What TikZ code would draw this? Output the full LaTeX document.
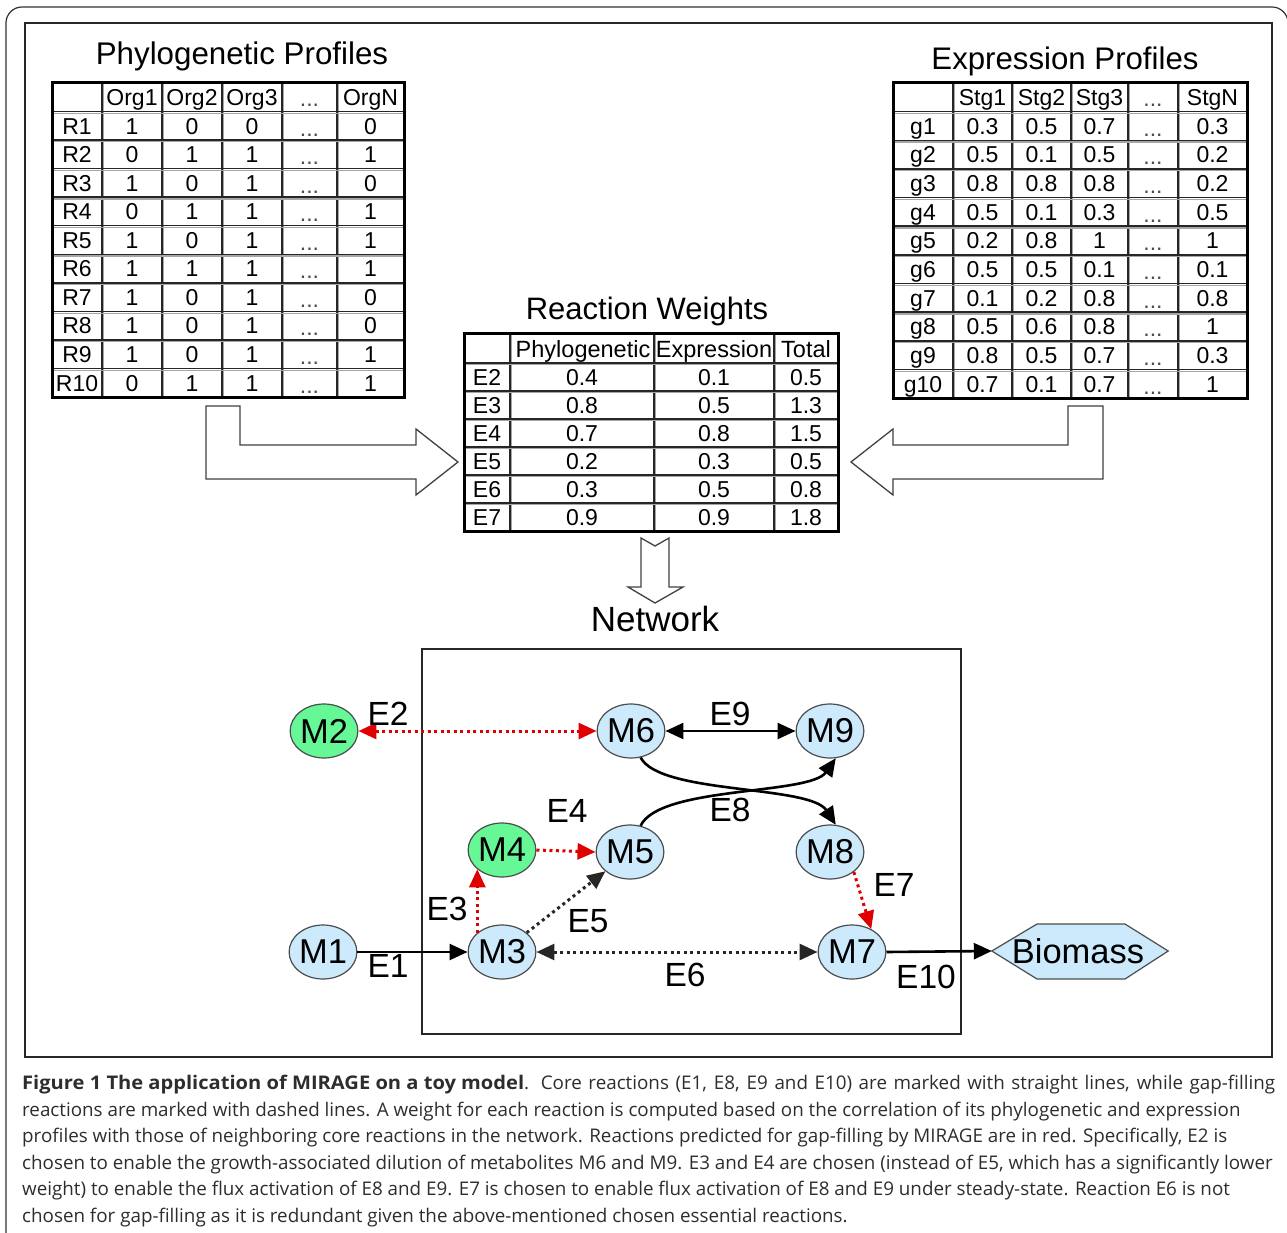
\documentclass[tikz,border=0pt]{standalone}
\usepackage{fontspec}
\setmainfont{Liberation Sans}
\newfontfamily\capfont{Open Sans}
\usetikzlibrary{arrows.meta,shapes.geometric}
\definecolor{metblue}{RGB}{204,234,252}
\definecolor{metgreen}{RGB}{102,248,150}
\definecolor{gapred}{RGB}{225,0,0}
\definecolor{captxt}{RGB}{45,45,45}
\newcommand\fs[1]{\fontsize{#1}{#1}\selectfont}
\newcommand\dts{...}
\tikzset{
  tri/.tip={Triangle[length=18pt,width=16pt]},
  met/.style={ellipse, draw=black!70, line width=1.2pt, fill=metblue, minimum width=66pt, minimum height=54pt, inner sep=0pt, font=\fs{34.5}},
  metg/.style={met, fill=metgreen},
  elab/.style={inner sep=0pt, font=\fs{33.5}},
  ttl/.style={inner sep=0pt, anchor=base},
  cell/.style={inner sep=0pt, anchor=base, font=\fs{23}},
  dcell/.style={cell, text=black!70},
  tshadow/.style={line width=1.2pt, black!35},
  tline/.style={line width=1.5pt, black!85},
  tframe/.style={line width=3pt, black},
  blockarrow/.style={draw=black!75, line width=1.3pt, fill=white, line join=miter},
  core/.style={line width=2.6pt, black},
  dotblack/.style={line width=3pt, black!85, dash pattern=on 3pt off 3.5pt},
  dotred/.style={line width=3pt, gapred, dash pattern=on 3pt off 3.5pt},
  capline/.style={inner sep=0pt, anchor=base west, font=\capfont\fs{18.8}, text=captxt},
}
\begin{document}
\begin{tikzpicture}[x=1pt,y=-1pt]
\useasboundingbox (0,0) rectangle (1287,1233);
% frames
\draw[line width=1.2pt, black!80, rounded corners=16pt] (6,1240) -- (6,7) -- (1288,7) -- (1288,1240);
\draw[line width=1.5pt, black!85] (25,23) rectangle (1272,1057);

% ---------- Phylogenetic profiles ----------
\node[ttl, font=\fs{31.3}] (phtitle) at (242,65) {Phylogenetic Profiles};
\foreach \x in {102,162,222,282,337} {\draw[tshadow] (\x+1.8,83) -- (\x+1.8,397); \draw[tline] (\x,83) -- (\x,397);}
\foreach \i in {1,...,10} {\draw[tshadow] (52,84.8+28.55*\i) -- (404,84.8+28.55*\i); \draw[tline] (52,83+28.55*\i) -- (404,83+28.55*\i);}
\draw[tframe] (52,83) rectangle (404,397);
\foreach \t/\x [count=\k] in {Org1/132,Org2/192,Org3/252,OrgN/370.5}
  \node[cell] (ph0-\k) at (\x,105.5) {\t};
\node[dcell] (ph0-d) at (309.5,107) {\dts};
\foreach \r/\va/\vb/\vc/\vd [count=\i] in {R1/1/0/0/0,R2/0/1/1/1,R3/1/0/1/0,R4/0/1/1/1,R5/1/0/1/1,R6/1/1/1/1,R7/1/0/1/0,R8/1/0/1/0,R9/1/0/1/1,R10/0/1/1/1}{
  \pgfmathsetmacro\yb{83+28.55*(\i+1)-6}
  \node[cell] (ph\i-0) at (77,\yb) {\r};
  \node[cell] (ph\i-1) at (132,\yb) {\va};
  \node[cell] (ph\i-2) at (192,\yb) {\vb};
  \node[cell] (ph\i-3) at (252,\yb) {\vc};
  \node[dcell] (ph\i-4) at (309.5,\yb+2) {\dts};
  \node[cell] (ph\i-5) at (370.5,\yb) {\vd};
}

% ---------- Expression profiles ----------
\node[ttl, font=\fs{31.2}] (extitle) at (1065,70) {Expression Profiles};
\foreach \x in {953,1012,1071,1128,1178} {\draw[tshadow] (\x+1.8,83) -- (\x+1.8,398); \draw[tline] (\x,83) -- (\x,398);}
\foreach \i in {1,...,10} {\draw[tshadow] (893,84.8+28.64*\i) -- (1247,84.8+28.64*\i); \draw[tline] (893,83+28.64*\i) -- (1247,83+28.64*\i);}
\draw[tframe] (893,83) rectangle (1247,398);
\foreach \t/\x [count=\k] in {Stg1/982.5,Stg2/1041.5,Stg3/1099.5,StgN/1212.5}
  \node[cell] (ex0-\k) at (\x,105.6) {\t};
\node[dcell] (ex0-d) at (1153,107) {\dts};
\foreach \r/\va/\vb/\vc/\vd [count=\i] in {g1/0.3/0.5/0.7/0.3,g2/0.5/0.1/0.5/0.2,g3/0.8/0.8/0.8/0.2,g4/0.5/0.1/0.3/0.5,g5/0.2/0.8/1/1,g6/0.5/0.5/0.1/0.1,g7/0.1/0.2/0.8/0.8,g8/0.5/0.6/0.8/1,g9/0.8/0.5/0.7/0.3,g10/0.7/0.1/0.7/1}{
  \pgfmathsetmacro\yb{83+28.64*(\i+1)-6}
  \node[cell] (ex\i-0) at (923,\yb) {\r};
  \node[cell] (ex\i-1) at (982.5,\yb) {\va};
  \node[cell] (ex\i-2) at (1041.5,\yb) {\vb};
  \node[cell] (ex\i-3) at (1099.5,\yb) {\vc};
  \node[dcell] (ex\i-4) at (1153,\yb+2) {\dts};
  \node[cell] (ex\i-5) at (1212.5,\yb) {\vd};
}

% ---------- Reaction weights ----------
\node[ttl, font=\fs{31}] (rwtitle) at (647,319) {Reaction Weights};
\foreach \x in {510,654,774} {\draw[tshadow] (\x+1.8,333) -- (\x+1.8,531); \draw[tline] (\x,333) -- (\x,531);}
\foreach \i in {0,...,5} {\draw[tshadow] (464,364.8+28*\i) -- (838,364.8+28*\i); \draw[tline] (464,363+28*\i) -- (838,363+28*\i);}
\draw[tframe] (464,333) rectangle (838,531);
\node[cell, font=\fs{23.5}] (rw0-1) at (583,357) {Phylogenetic};
\node[cell, font=\fs{23.5}] (rw0-2) at (714,357) {Expression};
\node[cell, font=\fs{23.5}] (rw0-3) at (806,357) {Total};
\foreach \r/\va/\vb/\vc [count=\i] in {E2/0.4/0.1/0.5,E3/0.8/0.5/1.3,E4/0.7/0.8/1.5,E5/0.2/0.3/0.5,E6/0.3/0.5/0.8,E7/0.9/0.9/1.8}{
  \pgfmathsetmacro\yb{363+28*\i-6}
  \node[cell] (rw\i-0) at (487,\yb) {\r};
  \node[cell] (rw\i-1) at (582,\yb) {\va};
  \node[cell] (rw\i-2) at (714,\yb) {\vb};
  \node[cell] (rw\i-3) at (806,\yb) {\vc};
}

% ---------- block arrows ----------
\draw[blockarrow] (206,406) -- (240,406) -- (240,445) -- (416,445) -- (416,429) -- (458,462) -- (416,495) -- (416,479) -- (206,479) -- cycle;
\draw[blockarrow] (1103,406) -- (1068,406) -- (1068,445) -- (893,445) -- (893,429) -- (851,462) -- (893,495) -- (893,479) -- (1103,479) -- cycle;
\draw[blockarrow] (641,538) -- (655,546) -- (669,538) -- (669,587) -- (683,587) -- (655,603) -- (628,587) -- (641,587) -- cycle;

% ---------- Network ----------
\node[ttl, font=\fs{35}] (nettitle) at (655,631) {Network};
\draw[line width=1.5pt, black!85] (422,649) rectangle (961,1034);

\node[metg] (m2) at (324,731) {M2};
\node[met]  (m6) at (631,731) {M6};
\node[met]  (m9) at (830,731) {M9};
\node[metg] (m4) at (502,850) {M4};
\node[met]  (m5) at (630,852) {M5};
\node[met]  (m8) at (830,852) {M8};
\node[met]  (m1) at (323,952) {M1};
\node[met]  (m3) at (502,952) {M3};
\node[met]  (m7) at (852,952) {M7};
\node[inner sep=0pt, minimum width=176pt, minimum height=55pt] (bio) at (1080,951) {};
\draw[line width=1.2pt, draw=black!70, fill=metblue] (bio.west) -- (1037,924) -- (1125,924) -- (bio.east) -- (1125,979) -- (1037,979) -- cycle;
\node[inner sep=0pt, font=\fs{34.5}] (biotxt) at (1078,951) {Biomass};

\draw[dotred, tri-tri] (m2) -- (m6);
\draw[core, tri-tri] (m6) -- (m9);
\draw[core, -tri] (m6.-70) .. controls +(19,37) and +(-26,-40) .. (m8.78);
\draw[core, -tri] (m5.68) .. controls +(19,-40) and +(-26,37) .. (m9.-78);
\draw[dotred, -tri] (m4.east) -- (m5.west);
\draw[dotred, -tri] (m3.142) -- (m4.-142);
\draw[dotblack, -tri] (m3) -- (m5);
\draw[core, -tri] (m1) -- (m3);
\draw[dotblack, tri-tri] (m3) -- (m7);
\draw[dotred, -tri] (m8.-40) -- (m7.50);
\draw[core, -tri] (m7.east) -- (bio.west);

\node[elab] (le2) at (388,714) {E2};
\node[elab] (le9) at (730,714) {E9};
\node[elab] (le8) at (730,810) {E8};
\node[elab] (le4) at (567,811) {E4};
\node[elab] (le3) at (447,909) {E3};
\node[elab] (le5) at (588,921) {E5};
\node[elab] (le1) at (388,966) {E1};
\node[elab] (le6) at (685,975) {E6};
\node[elab] (le7) at (894,885) {E7};
\node[elab] (le10) at (926,977) {E10};

% ---------- caption ----------
\node[capline] (cap1) at (22,1089) {\makebox[1253pt][s]{\scalebox{1.07}[1]{\textbf{Figure 1 The application of MIRAGE on a toy model}}. Core reactions (E1, E8, E9 and E10) are marked with straight lines, while gap-filling}};
\node[capline] (cap2) at (22,1116) {reactions are marked with dashed lines. A weight for each reaction is computed based on the correlation of its phylogenetic and expression};
\node[capline] (cap3) at (22,1142) {profiles with those of neighboring core reactions in the network. Reactions predicted for gap-filling by MIRAGE are in red. Specifically, E2 is};
\node[capline] (cap4) at (22,1169) {chosen to enable the growth-associated dilution of metabolites M6 and M9. E3 and E4 are chosen (instead of E5, which has a significantly lower};
\node[capline] (cap5) at (22,1195) {weight) to enable the flux activation of E8 and E9. E7 is chosen to enable flux activation of E8 and E9 under steady-state. Reaction E6 is not};
\node[capline] (cap6) at (22,1222) {chosen for gap-filling as it is redundant given the above-mentioned chosen essential reactions.};
\end{tikzpicture}
\end{document}
